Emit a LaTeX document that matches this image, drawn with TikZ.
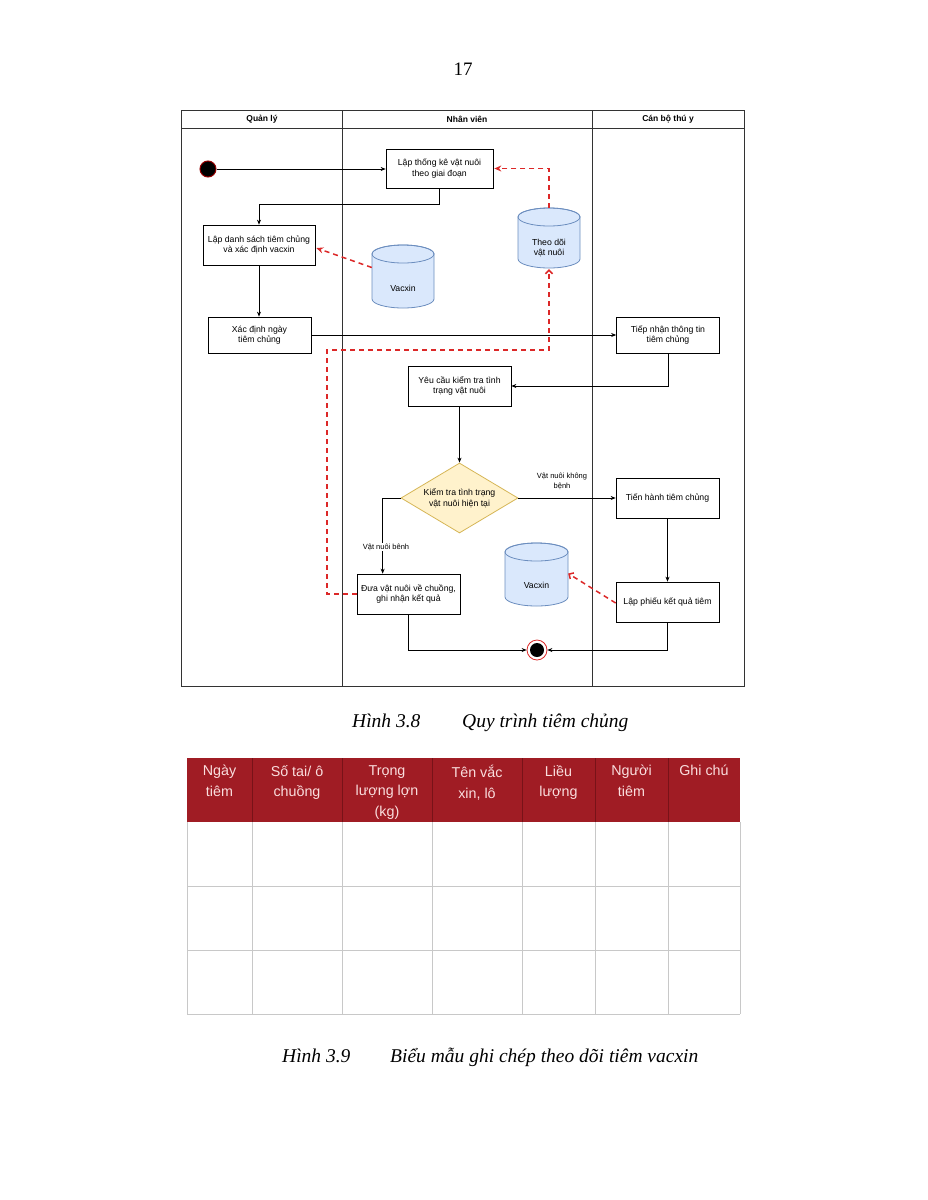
\documentclass[tikz,border=0pt]{standalone}
\usepackage{fontspec}
\setmainfont{Liberation Serif}
\newfontfamily\dsans{Liberation Sans}
\usetikzlibrary{arrows.meta,calc,shapes.geometric}
\definecolor{rline}{RGB}{220,40,40}
\definecolor{cylfill}{RGB}{218,232,252}
\definecolor{cyldraw}{RGB}{108,142,191}
\definecolor{dmfill}{RGB}{255,242,204}
\definecolor{dmdraw}{RGB}{214,182,86}
\definecolor{hred}{RGB}{160,28,36}
\definecolor{hdark}{RGB}{120,18,24}
\definecolor{htext}{RGB}{250,222,222}
\definecolor{grid}{RGB}{200,200,200}
\definecolor{startred}{RGB}{150,0,0}
\tikzset{
  lane/.style={draw=black!80, line width=0.8pt},
  box/.style={draw=black, line width=0.7pt, fill=white, inner sep=0pt, align=center,
    minimum width=103pt, minimum height=40pt, font=\dsans\fontsize{8.7}{10.5}\selectfont},
  dia/.style={diamond, draw=dmdraw, line width=0.8pt, fill=dmfill, inner sep=0pt, aspect=1.67,
    minimum width=117pt, minimum height=70pt, align=center, font=\dsans\fontsize{8.7}{10.5}\selectfont},
  cylarea/.style={inner sep=0pt},
  cylshape/.style={draw=cyldraw, fill=cylfill, line width=0.8pt},
  cyltext/.style={align=center, font=\dsans\fontsize{8.7}{10.5}\selectfont},
  flow/.style={draw=black, line width=0.7pt, -{Stealth[length=5pt,width=4pt]}},
  rdash/.style={draw=rline, line width=1.5pt, dash pattern=on 5pt off 4pt, -{Stealth[length=7pt,width=6pt]}},
  rdasho/.style={draw=rline, line width=1.5pt, dash pattern=on 5pt off 4pt, -{Straight Barb[length=3.5pt,width=7pt]}},
  hdr/.style={font=\dsans\bfseries\fontsize{8.5}{10}\selectfont},
  lbl/.style={font=\dsans\fontsize{7.5}{10}\selectfont, align=center, fill=white, inner sep=1pt},
  captxt/.style={font=\fontsize{19.5}{23}\selectfont\itshape, anchor=base west, inner sep=0pt},
  thdtxt/.style={font=\dsans\fontsize{14.3}{20.5}\selectfont, text=htext, align=center, anchor=north, inner sep=0pt},
}
\begin{document}
\begin{tikzpicture}[x=1pt,y=-1pt]
\useasboundingbox[fill=white] (0,0) rectangle (927,1200);

% page number
\node[font=\fontsize{19}{22}\selectfont, anchor=base, inner sep=0pt] (pg) at (463,75) {17};

% swimlanes
\draw[lane] (181,110) rectangle (744,686);
\draw[lane] (181,128) -- (744,128);
\draw[lane] (342,110) -- (342,686);
\draw[lane] (592,110) -- (592,686);
\node[hdr] (h1) at (262,119) {Quản lý};
\node[hdr] (h2) at (467,119) {Nhân viên};
\node[hdr] (h3) at (668,119) {Cán bộ thú y};

% cylinders
% vac1: x 372-434, y 245-308
\path[cylshape] (372,254) -- (372,299) arc[start angle=180,end angle=360,x radius=31pt,y radius=9pt]
  -- (434,254) arc[start angle=0,end angle=180,x radius=31pt,y radius=9pt] -- cycle;
\draw[cylshape, fill=none] (403,254) ellipse[x radius=31pt, y radius=9pt];
\node[cylarea, minimum width=62pt, minimum height=63pt] (vac1) at (403,276.5) {};
\node[cyltext] (vac1t) at (403,288) {Vacxin};

% tdv: x 518-580, y 208-268
\path[cylshape] (518,217) -- (518,259) arc[start angle=180,end angle=360,x radius=31pt,y radius=9pt]
  -- (580,217) arc[start angle=0,end angle=180,x radius=31pt,y radius=9pt] -- cycle;
\draw[cylshape, fill=none] (549,217) ellipse[x radius=31pt, y radius=9pt];
\node[cylarea, minimum width=62pt, minimum height=60pt] (tdv) at (549,238) {};
\node[cyltext] (tdvt) at (549,248) {Theo dõi\\vật nuôi};

% vac2: x 505-568, y 543-606
\path[cylshape] (505,552) -- (505,597) arc[start angle=180,end angle=360,x radius=31.5pt,y radius=9pt]
  -- (568,552) arc[start angle=0,end angle=180,x radius=31.5pt,y radius=9pt] -- cycle;
\draw[cylshape, fill=none] (536.5,552) ellipse[x radius=31.5pt, y radius=9pt];
\node[cylarea, minimum width=63pt, minimum height=63pt] (vac2) at (536.5,574.5) {};
\node[cyltext] (vac2t) at (536.5,585) {Vacxin};

% start / end
\node[circle, fill=black, draw=startred, line width=1pt, minimum size=16pt, inner sep=0pt] (st) at (208,169) {};
\node[circle, draw=rline, line width=0.8pt, fill=white, minimum size=20pt, inner sep=0pt] (en) at (537,650) {};
\node[circle, fill=black, minimum size=14pt, inner sep=0pt] (enin) at (537,650) {};

% boxes
\node[box, minimum width=107pt, minimum height=39pt] (lt) at (439.5,168.5) {Lập thống kê vật nuôi\\theo giai đoạn};
\node[box, minimum width=112pt] (ld) at (259,245) {Lập danh sách tiêm chủng\\và xác định vacxin};
\node[box, minimum height=36pt] (xd) at (259.5,335) {Xác định ngày\\tiêm chủng};
\node[box, minimum height=36pt] (tn) at (668,335) {Tiếp nhận thông tin\\tiêm chủng};
\node[box] (yc) at (459.5,386) {Yêu cầu kiểm tra tình\\trạng vật nuôi};
\node[dia] (dm) at (459.5,498) {Kiểm tra tình trạng\\vật nuôi hiện tại};
\node[box] (thb) at (667.5,498) {Tiến hành tiêm chủng};
\node[box] (dv) at (408.5,594) {Đưa vật nuôi về chuồng,\\ghi nhận kết quả};
\node[box] (lp) at (667.5,602) {Lập phiếu kết quả tiêm};

% flows
\draw[flow] (st.east) -- (st.east -| lt.west);
\draw[flow] (lt.south) -- ++(0,16) -| (ld.north);
\draw[flow] (ld.south) -- (ld.south |- xd.north);
\draw[flow] (xd.east) -- (tn.west);
\draw[flow] (tn.south) |- (yc.east);
\draw[flow] (yc.south) -- (yc.south |- dm.north);
\draw[flow] (dm.east) -- (thb.west);
\coordinate (dvin) at ($(dv.north west)+(26,0)$);
\draw[flow] (dm.west) -| (dvin);
\draw[flow] (thb.south) -- (lp.north);
\draw[flow] (dv.south) |- (en.west);
\draw[flow] (lp.south) |- (en.east);

\node[lbl] (l1) at (562,481) {Vật nuôi không\\bệnh};
\node[lbl] (l2) at (386,547) {Vật nuôi bênh};

% red dashed
\draw[rdash] ($(vac1.west)+(0,-9)$) -- ($(ld.east)+(1,3)$);
\draw[rdash] (tdv.north) |- ($(lt.east)+(1,0)$);
\coordinate (r1) at (327,350);
\draw[rdasho] (dv.west) -| (r1) -| ($(tdv.south)+(0,1)$);
\draw[rdasho] ($(lp.west)+(0,1)$) -- ($(vac2.east)+(0,-1)$);

% caption 1
\node[captxt] (c1a) at (352,727) {Hình 3.8};
\node[captxt] (c1b) at (462,727) {Quy trình tiêm chủng};

% table
\fill[hred] (187,758) rectangle (740,822);
\foreach \x in {252,342,432,522,595,668} {\draw[hdark, line width=0.6pt] (\x,758) -- (\x,822);}
\foreach \x in {187,252,342,432,522,595,668,740} {\draw[grid, line width=0.8pt] (\x,822) -- (\x,1014);}
\foreach \y in {886,950,1014} {\draw[grid, line width=0.8pt] (187,\y) -- (740,\y);}
\node[thdtxt] (t1) at (219.5,765) {Ngày\\tiêm};
\node[thdtxt] (t2) at (297,765) {Số tai/ ô\\chuồng};
\node[thdtxt] (t3) at (387,765) {Trọng\\lượng lợn\\(kg)};
\node[thdtxt] (t4) at (477,765) {Tên vắc\\xin, lô};
\node[thdtxt] (t5) at (558.5,765) {Liều\\lượng};
\node[thdtxt] (t6) at (631.5,765) {Người\\tiêm};
\node[thdtxt] (t7) at (704,765) {Ghi chú};

% caption 2
\node[captxt] (c2a) at (282,1062) {Hình 3.9};
\node[captxt] (c2b) at (390,1062) {Biểu mẫu ghi chép theo dõi tiêm vacxin};
\end{tikzpicture}
\end{document}
